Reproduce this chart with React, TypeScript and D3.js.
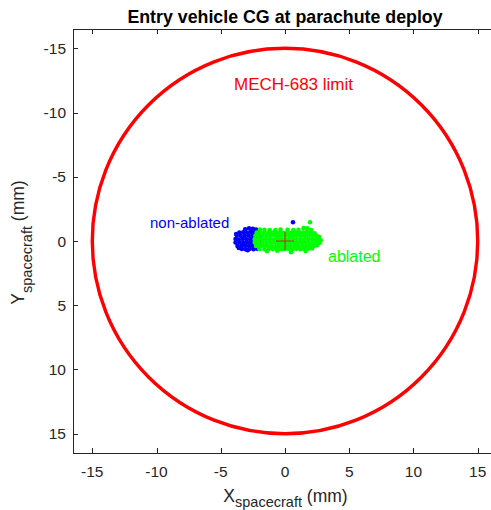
import React from 'react';
import * as d3 from 'd3';

// Axis ticks (mm)
const xTicks = [-15, -10, -5, 0, 5, 10, 15];
const yTicks = [-15, -10, -5, 0, 5, 10, 15];
const axisLimits: [number, number] = [-16.5, 16.5];

// CG allowable radius (mm)
const limitRadius = 15;

// CG dispersion samples, non-ablated heatshield [x, y] (mm)
const nonAblated: [number, number][] = [
  [-3.1, -0.92], [-2.8, -0.98], [-2.5, -0.95], [-2.25, -0.9],
  [-3.55, -0.66], [-3.25, -0.68], [-2.95, -0.64], [-2.65, -0.7], [-2.35, -0.65], [-2.05, -0.62],
  [-3.75, -0.42], [-3.45, -0.4], [-3.15, -0.38], [-2.85, -0.43], [-2.55, -0.4], [-2.25, -0.41], [-1.95, -0.38],
  [-3.85, -0.15], [-3.6, -0.12], [-3.3, -0.16], [-3.0, -0.13], [-2.7, -0.15], [-2.4, -0.12], [-2.1, -0.14], [-1.85, -0.16],
  [-3.85, 0.12], [-3.55, 0.1], [-3.25, 0.14], [-2.95, 0.11], [-2.65, 0.13], [-2.35, 0.1], [-2.05, 0.12],
  [-3.7, 0.38], [-3.4, 0.4], [-3.1, 0.36], [-2.8, 0.39], [-2.5, 0.37], [-2.2, 0.4], [-1.95, 0.38],
  [-3.35, 0.62], [-3.05, 0.65], [-2.75, 0.6], [-2.45, 0.64], [-2.15, 0.61],
  [-3.6, 0.55], [-2.9, 0.72], [-3.8, -0.55],
  [0.62, -1.46],
];

// CG dispersion samples, ablated heatshield [x, y] (mm)
const ablated: [number, number][] = [
  [-1.95, -0.9], [-1.6, -0.88], [-1.2, -0.86], [-0.75, -0.85], [-0.35, -0.9], [0.2, -0.87],
  [0.65, -0.86], [1.05, -0.88], [1.45, -1.0], [1.75, -0.98], [2.05, -0.86],
  [-2.2, -0.65], [-1.9, -0.64], [-1.6, -0.66], [-1.3, -0.63], [-1.0, -0.65], [-0.7, -0.64],
  [-0.4, -0.66], [-0.1, -0.63], [0.2, -0.65], [0.5, -0.64], [0.8, -0.66], [1.1, -0.63],
  [1.4, -0.67], [1.7, -0.7], [2.0, -0.64], [2.3, -0.6],
  [-2.3, -0.4], [-2.05, -0.39], [-1.75, -0.41], [-1.45, -0.38], [-1.15, -0.4], [-0.85, -0.42],
  [-0.55, -0.39], [-0.25, -0.4], [0.05, -0.41], [0.35, -0.38], [0.65, -0.4], [0.95, -0.42],
  [1.25, -0.39], [1.55, -0.4], [1.85, -0.41], [2.15, -0.38], [2.45, -0.4], [2.65, -0.33],
  [-2.35, -0.14], [-2.1, -0.12], [-1.8, -0.15], [-1.5, -0.13], [-1.2, -0.14], [-0.9, -0.12],
  [-0.6, -0.15], [-0.3, -0.13], [0.0, -0.14], [0.3, -0.12], [0.6, -0.15], [0.9, -0.13],
  [1.2, -0.14], [1.5, -0.12], [1.8, -0.15], [2.1, -0.13], [2.4, -0.14], [2.65, -0.12], [2.78, -0.05],
  [-2.35, 0.12], [-2.05, 0.13], [-1.75, 0.11], [-1.45, 0.14], [-1.15, 0.12], [-0.85, 0.1],
  [-0.55, 0.13], [-0.25, 0.11], [0.05, 0.12], [0.35, 0.14], [0.65, 0.11], [0.95, 0.13],
  [1.25, 0.12], [1.55, 0.1], [1.85, 0.13], [2.15, 0.12], [2.45, 0.11], [2.7, 0.14],
  [-2.25, 0.38], [-1.95, 0.4], [-1.65, 0.37], [-1.35, 0.39], [-1.05, 0.38], [-0.75, 0.41],
  [-0.45, 0.37], [-0.15, 0.39], [0.15, 0.38], [0.45, 0.4], [0.75, 0.37], [1.05, 0.39],
  [1.35, 0.38], [1.65, 0.4], [1.95, 0.37], [2.25, 0.39], [2.5, 0.34],
  [-2.0, 0.62], [-1.6, 0.64], [-1.25, 0.6], [-0.95, 0.63], [-0.6, 0.61], [-0.3, 0.64],
  [0.0, 0.62], [0.3, 0.6], [0.6, 0.63], [0.9, 0.61], [1.2, 0.64], [1.5, 0.62],
  [1.8, 0.6], [2.1, 0.58],
  [-1.4, 0.8], [0.47, 0.88], [1.6, 0.78], [-0.6, 0.76],
  [1.95, -1.46],
];

const FONT = '"Liberation Sans", Arial, Helvetica, sans-serif';
const AXIS = '#262626';

export default function App() {
  const W = 491;
  const H = 510;
  const x = d3.scaleLinear().domain(axisLimits).range([73, 497]);
  const y = d3.scaleLinear().domain(axisLimits).range([29, 453]);
  const [x0, x1] = x.range();
  const [y0, y1] = y.range();
  const tickLen = 5;
  const dotR = 2.3;

  return (
    <svg
      width={W}
      height={H}
      style={{ position: 'absolute', left: 0, top: 0, background: '#fff' }}
      fontFamily={FONT}
    >
      <rect x={0} y={0} width={W} height={H} fill="#fff" />

      {/* limit circle */}
      <circle
        cx={x(0)}
        cy={y(0)}
        r={x(limitRadius) - x(0)}
        fill="none"
        stroke="#ff0000"
        strokeWidth={3.4}
      />

      {/* dispersion clouds */}
      <g fill="#0000ff">
        {nonAblated.map(([px, py], i) => (
          <circle key={i} cx={x(px)} cy={y(py)} r={dotR} />
        ))}
      </g>
      <g fill="#00ff00">
        {ablated.map(([px, py], i) => (
          <circle key={i} cx={x(px)} cy={y(py)} r={dotR} />
        ))}
      </g>

      {/* origin marker */}
      <g stroke="#c8281e" strokeWidth={1}>
        <line x1={x(0) - 9} x2={x(0) + 9} y1={y(0)} y2={y(0)} />
        <line x1={x(0)} x2={x(0)} y1={y(0) - 9} y2={y(0) + 9} />
      </g>

      {/* annotations */}
      <text x={234} y={90} fill="#ff0000" fontSize={17}>
        MECH-683 limit
      </text>
      <text x={150} y={228} fill="#0000ff" fontSize={15}>
        non-ablated
      </text>
      <text x={328} y={262} fill="#00ff00" fontSize={16}>
        ablated
      </text>

      {/* axes box */}
      <g stroke={AXIS} strokeWidth={1} fill="none">
        <line x1={x0} x2={x1} y1={y1 + 0.5} y2={y1 + 0.5} />
        <line x1={x0} x2={x1} y1={y0 + 0.5} y2={y0 + 0.5} />
        <line x1={x0 + 0.5} x2={x0 + 0.5} y1={y0} y2={y1} />
        <line x1={x1 - 0.5} x2={x1 - 0.5} y1={y0} y2={y1} />
        {xTicks.map((t) => (
          <g key={'x' + t}>
            <line x1={Math.round(x(t)) + 0.5} x2={Math.round(x(t)) + 0.5} y1={y1} y2={y1 - tickLen} />
            <line x1={Math.round(x(t)) + 0.5} x2={Math.round(x(t)) + 0.5} y1={y0} y2={y0 + tickLen} />
          </g>
        ))}
        {yTicks.map((t) => (
          <g key={'y' + t}>
            <line x1={x0} x2={x0 + tickLen} y1={Math.round(y(t)) + 0.5} y2={Math.round(y(t)) + 0.5} />
            <line x1={x1} x2={x1 - tickLen} y1={Math.round(y(t)) + 0.5} y2={Math.round(y(t)) + 0.5} />
          </g>
        ))}
      </g>

      {/* tick labels */}
      <g fill={AXIS} fontSize={15.5}>
        {xTicks.map((t) => (
          <text key={'xl' + t} x={x(t)} y={477} textAnchor="middle">
            {String(t)}
          </text>
        ))}
        {yTicks.map((t) => (
          <text key={'yl' + t} x={66} y={y(t) + 5.5} textAnchor="end">
            {String(t)}
          </text>
        ))}
      </g>

      {/* title */}
      <text x={285} y={23} fill="#000" fontSize={17.8} fontWeight="bold" textAnchor="middle">
        Entry vehicle CG at parachute deploy
      </text>

      {/* axis labels */}
      <text x={285.5} y={502} fill={AXIS} fontSize={17.5} textAnchor="middle">
        X
        <tspan fontSize={14.5} dy={5}>spacecraft</tspan>
        <tspan dy={-5}> (mm)</tspan>
      </text>
      <text
        transform={`translate(24, ${242.5}) rotate(-90)`}
        fill={AXIS}
        fontSize={17.5}
        textAnchor="middle"
      >
        Y
        <tspan fontSize={14.5} dy={8}>spacecraft</tspan>
        <tspan dy={-8}> (mm)</tspan>
      </text>
    </svg>
  );
}
